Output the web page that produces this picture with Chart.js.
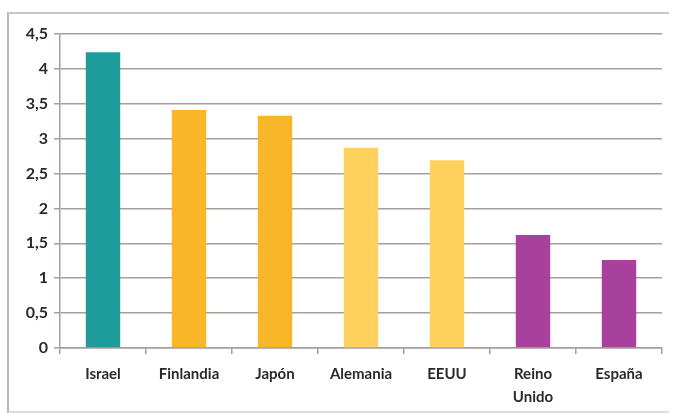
<!DOCTYPE html>
<html>
<head>
<meta charset="utf-8">
<script src="https://cdn.jsdelivr.net/npm/chart.js@4.4.0/dist/chart.umd.min.js"></script>
<style>
  html, body { margin: 0; padding: 0; background: #fff; }
  #wrap { position: relative; width: 678px; height: 413px; }
  #frame {
    position: absolute; left: 7px; top: 12px; width: 660px; height: 397px;
    border-left: 2px solid #b9b6b4; border-top: 2px solid #c9c6c4; border-bottom: 2px solid #dcdcdc;
  }
  canvas { position: absolute; left: 0; top: 0; }
</style>
</head>
<body>
<div id="wrap">
  <div id="frame"></div>
  <canvas id="myChart" width="678" height="413"></canvas>
</div>
<script>
var countries = ['Israel', 'Finlandia', 'Japón', 'Alemania', 'EEUU', ['Reino', 'Unido'], 'España'];
var values = [4.24, 3.41, 3.33, 2.87, 2.69, 1.62, 1.26];
var barColors = ['#1d9c9b', '#f9b628', '#f9b628', '#fdd15c', '#fdd15c', '#a8419e', '#a8419e'];
var yTicks = [0, 0.5, 1, 1.5, 2, 2.5, 3, 3.5, 4, 4.5];

var gridColor = '#a89e9b';
var labelFont = {family: "Lato, 'Open Sans', sans-serif", size: 15, weight: 'bold', lineHeight: 1.5};

var ctx = document.getElementById('myChart').getContext('2d');
var myChart = new Chart(ctx, {
    type: 'bar',
    data: {
        labels: countries,
        datasets: [{data: values, backgroundColor: barColors, barPercentage: 0.4, categoryPercentage: 1}]
    },
    options: {
        responsive: false,
        animation: false,
        layout: {padding: {top: 34, right: 16, left: 0, bottom: 0}},
        plugins: {legend: {display: false}, tooltip: {enabled: false}},
        scales: {
            x: {
                grid: {display: true, drawOnChartArea: false, drawTicks: true, tickLength: 6, color: gridColor, lineWidth: 1.5},
                border: {color: gridColor, width: 1.5},
                ticks: {color: '#2a2a2a', font: labelFont, padding: 9, maxRotation: 0},
                afterFit: function (scale) { scale.height = 65; }
            },
            y: {
                min: 0,
                max: 4.5,
                afterBuildTicks: function (scale) {
                    scale.ticks = yTicks.map(function (v) { return {value: v}; });
                },
                grid: {color: gridColor, lineWidth: 1.5, tickLength: 6},
                border: {color: gridColor, width: 1.5},
                ticks: {
                    color: '#2a2a2a',
                    font: {family: labelFont.family, size: 16, weight: 'bold'},
                    padding: 6,
                    callback: function (v) { return String(v).replace('.', ','); }
                },
                afterFit: function (scale) { scale.width = 60; }
            }
        }
    }
});
</script>
</body>
</html>
